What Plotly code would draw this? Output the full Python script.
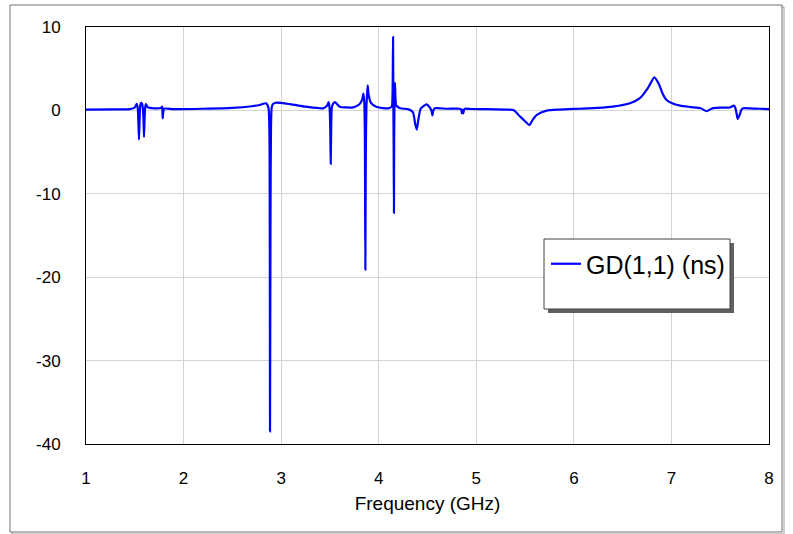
import plotly.graph_objects as go

# Group delay of S11 versus frequency
freq_ghz = [
    1.00, 1.30, 1.45, 1.50, 1.52, 1.530, 1.537, 1.543, 1.549, 1.555,
    1.562, 1.575, 1.583, 1.589, 1.594, 1.600, 1.607, 1.615, 1.63, 1.70,
    1.77, 1.780, 1.786, 1.792, 1.80, 1.90, 2.20, 2.50, 2.70, 2.78,
    2.845, 2.870, 2.880, 2.886, 2.891, 2.896, 2.903, 2.915, 2.944, 3.09,
    3.25, 3.43, 3.47, 3.487, 3.497, 3.503, 3.508, 3.513, 3.520, 3.535,
    3.552, 3.60, 3.74, 3.80, 3.83, 3.843, 3.852, 3.858, 3.863, 3.868,
    3.874, 3.880, 3.887, 3.895, 3.92, 3.98, 4.10, 4.135, 4.140, 4.144,
    4.147, 4.150, 4.153, 4.156, 4.159, 4.163, 4.167, 4.172, 4.18, 4.22,
    4.30, 4.35, 4.375, 4.39, 4.405, 4.43, 4.47, 4.49, 4.52, 4.540,
    4.550, 4.560, 4.575, 4.70, 4.83, 4.845, 4.852, 4.860, 4.867, 4.875,
    4.885, 4.95, 5.10, 5.30, 5.38, 5.45, 5.50, 5.544, 5.58, 5.62,
    5.72, 5.85, 6.06, 6.25, 6.40, 6.575, 6.68, 6.76, 6.825, 6.87,
    6.91, 6.95, 7.02, 7.09, 7.20, 7.30, 7.36, 7.42, 7.50, 7.60,
    7.640, 7.655, 7.668, 7.680, 7.703, 7.718, 7.735, 7.80, 7.90, 8.00,
]
gd_ns = [
    0.10, 0.12, 0.15, 0.35, 0.80, 0.30, -1.50, -3.50, -1.20, 0.50,
    0.90, 0.80, 0.20, -1.00, -3.20, -1.20, 0.40, 0.75, 0.40, 0.25,
    0.30, 0.45, -0.95, -0.20, 0.20, 0.15, 0.20, 0.30, 0.50, 0.65,
    0.85, 0.30, -3.00, -38.5, -12.0, -2.00, 0.30, 0.75, 0.92, 0.75,
    0.45, 0.25, 0.55, 1.00, 0.20, -2.00, -6.40, -2.00, 0.40, 0.85,
    1.00, 0.45, 0.37, 0.70, 1.30, 2.00, 1.00, -3.00, -19.1, -5.00,
    0.50, 1.80, 3.00, 2.00, 0.90, 0.40, 0.25, 0.50, 1.20, 4.00,
    8.80, 1.00, -4.00, -12.3, -2.00, 1.50, 3.30, 1.40, 0.60, 0.25,
    0.15, -0.20, -1.70, -2.30, -1.20, 0.20, 0.60, 0.73, 0.40, 0.00,
    -0.60, 0.00, 0.25, 0.20, 0.20, 0.10, -0.35, 0.10, -0.35, 0.10,
    0.20, 0.17, 0.15, 0.10, 0.05, -0.75, -1.30, -1.75, -1.10, -0.55,
    -0.03, 0.10, 0.20, 0.30, 0.45, 0.85, 1.50, 2.70, 3.97, 3.20,
    2.00, 1.25, 0.80, 0.57, 0.40, 0.25, -0.10, 0.25, 0.33, 0.35,
    0.57, 0.30, -0.40, -1.03, -0.40, 0.10, 0.25, 0.25, 0.20, 0.15,
]

x_ticks = [1, 2, 3, 4, 5, 6, 7, 8]
y_ticks = [-40, -30, -20, -10, 0, 10]

FONT = "Liberation Sans, Arial, sans-serif"

fig = go.Figure()
fig.add_trace(go.Scatter(
    x=freq_ghz, y=gd_ns, mode="lines", name="GD(1,1) (ns)",
    line=dict(color="#0000ff", width=2.2, shape="spline", smoothing=0.6),
))

# pixel helpers for paper-referenced decorations
L, R, T, B = 86, 24, 27, 90
W, H = 793, 534
PW, PH = W - L - R, H - T - B


def px(x):
    return (x - L) / PW


def py(y):
    return (H - B - y) / PH


shapes = [
    # outer frame with soft shadow
    dict(type="rect", xref="paper", yref="paper",
         x0=px(12), x1=px(784), y0=py(7), y1=py(534),
         line=dict(color="#a0a0a0", width=1), fillcolor="rgba(0,0,0,0)", layer="below"),
    dict(type="rect", xref="paper", yref="paper",
         x0=px(10), x1=px(782), y0=py(5), y1=py(532),
         line=dict(color="#707070", width=1), fillcolor="white", layer="below"),
    # legend box shadow and box
    dict(type="rect", xref="paper", yref="paper",
         x0=px(548), x1=px(734), y0=py(243), y1=py(313),
         line=dict(width=0), fillcolor="#606060"),
    dict(type="rect", xref="paper", yref="paper",
         x0=px(544), x1=px(730), y0=py(239), y1=py(309),
         line=dict(color="#404040", width=1), fillcolor="white"),
]

fig.update_layout(
    width=W, height=H,
    margin=dict(l=L, r=R, t=T, b=B),
    paper_bgcolor="white", plot_bgcolor="white",
    font=dict(family=FONT, color="black", size=17),
    showlegend=True,
    legend=dict(
        x=px(546), y=py(241), xanchor="left", yanchor="top",
        bgcolor="rgba(0,0,0,0)", borderwidth=0,
        font=dict(size=25, family=FONT), itemwidth=30,
    ),
    shapes=shapes,
    xaxis=dict(
        range=[1, 8], tickvals=x_ticks, ticktext=[str(v) for v in x_ticks],
        showgrid=True, gridcolor="#d4d4d4", gridwidth=1,
        showline=True, linecolor="black", linewidth=1, mirror=True,
        ticks="outside", ticklen=19, tickcolor="rgba(0,0,0,0)",
        zeroline=False, tickfont=dict(size=17),
        title=dict(text="Frequency (GHz)", font=dict(size=19), standoff=9),
    ),
    yaxis=dict(
        range=[-40, 10], tickvals=y_ticks, ticktext=[str(v) for v in y_ticks],
        showgrid=True, gridcolor="#d4d4d4", gridwidth=1,
        showline=True, linecolor="black", linewidth=1, mirror=True,
        ticks="outside", ticklen=21, tickcolor="rgba(0,0,0,0)",
        zeroline=False, tickfont=dict(size=17),
    ),
)

fig.write_html("out.html")
